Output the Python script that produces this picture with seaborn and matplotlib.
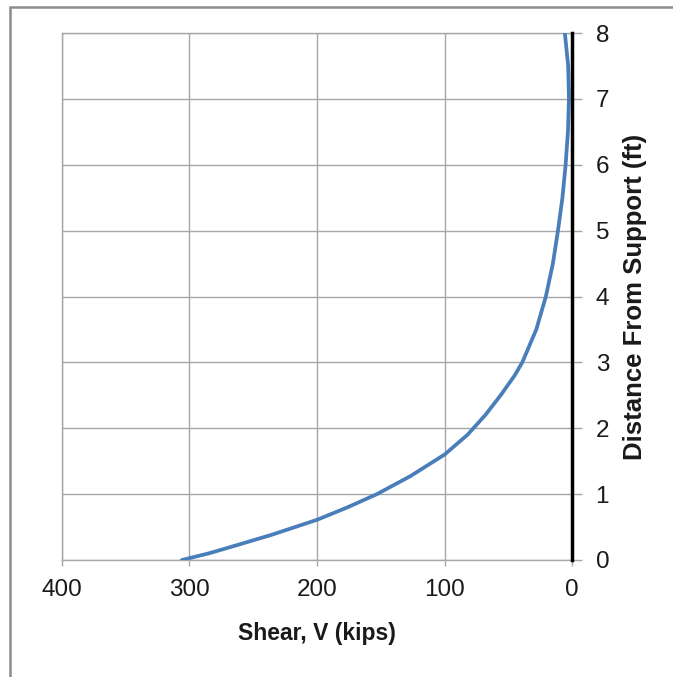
import matplotlib
matplotlib.use("Agg")
import matplotlib.pyplot as plt
import seaborn as sns
import pandas as pd
from matplotlib.patches import Rectangle

distance_ft = [0, 0.1, 0.23, 0.38, 0.61, 0.8, 1.0, 1.27, 1.6, 1.9, 2.2, 2.5, 2.8, 3.0,
               3.5, 4.0, 4.5, 5.0, 5.5, 6.0, 6.5, 7.0, 7.5, 8.0]
shear_kips = [306, 285, 262, 236, 200, 176, 153, 127, 100, 82, 68, 56, 45, 39,
              28, 20.5, 15, 11, 7.5, 5, 3.2, 2.4, 3, 5.6]
x_ticks = [400, 300, 200, 100, 0]
y_ticks = [0, 1, 2, 3, 4, 5, 6, 7, 8]

sns.set_theme(style="white")
plt.rcParams['font.family'] = ['Liberation Sans', 'DejaVu Sans']

df = pd.DataFrame({"V": shear_kips, "d": distance_ft})

fig = plt.figure(figsize=(6.73, 6.77), dpi=100)
ax = fig.add_axes([62/673, 1-560/677, (572-62)/673, (560-33)/677])

fig.patches.append(Rectangle((10/673, -0.1), 1.2, 1 - 7/677 + 0.1, transform=fig.transFigure,
                             fill=False, edgecolor='#8c8c8c', linewidth=1.8, zorder=0))

sns.lineplot(data=df, x="V", y="d", sort=False, estimator=None, ax=ax,
             color='#4a7ebb', linewidth=2.7, zorder=3)
ax.lines[0].set_solid_joinstyle('round')
ax.lines[0].set_solid_capstyle('round')

ax.set_xlim(400, 0)
ax.set_ylim(0, 8)
ax.set_xticks(x_ticks)
ax.set_yticks(y_ticks)
ax.yaxis.tick_right()
ax.yaxis.set_label_position("right")
ax.grid(True, color='#a6a6a6', linewidth=1.0)
ax.set_axisbelow(True)

for s in ['top', 'left', 'bottom']:
    ax.spines[s].set_color('#a6a6a6')
    ax.spines[s].set_linewidth(1.0)
ax.spines['right'].set_color('black')
ax.spines['right'].set_linewidth(2.5)
ax.spines['right'].set_zorder(4)

ax.tick_params(axis='x', which='major', direction='out', length=4, width=1, color='#a6a6a6',
               labelsize=17.5, labelcolor='#1a1a1a', pad=10, bottom=True)
ax.tick_params(axis='y', which='major', direction='out', length=7, width=1, color='#a6a6a6',
               labelsize=17.5, labelcolor='#1a1a1a', pad=10, right=True, left=False)

ax.set_xlabel("Shear, V (kips)", fontsize=16.5, fontweight='bold', color='#1a1a1a', labelpad=15)
ax.set_ylabel("Distance From Support (ft)", fontsize=18.5, fontweight='bold', color='#1a1a1a',
              labelpad=10, rotation=90)

fig.savefig("out.png", dpi=100)
